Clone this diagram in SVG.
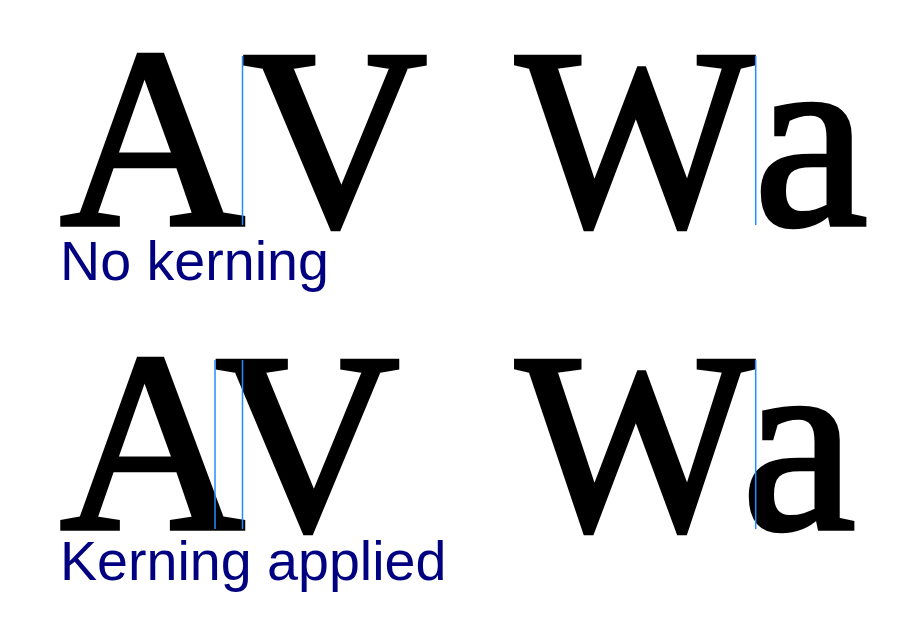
<svg xmlns="http://www.w3.org/2000/svg" width="920" height="640" viewBox="0 0 920 640">
<style>
.g{font-family:"Liberation Serif","Times New Roman",serif;font-weight:normal;font-size:256px;fill:#000;stroke:#000;stroke-width:4.5;stroke-linejoin:miter;stroke-miterlimit:3}
.lbl{font-family:"Liberation Sans",Arial,sans-serif;font-size:55.6px;fill:#000080}
.guide{stroke:#1e90ff;stroke-width:1.5;fill:none}
</style>
<rect width="920" height="640" fill="#fff"/>
<g id="row1-AV">
<text class="g" x="60" y="225">A</text>
<text class="g" x="242.5" y="225">V</text>
</g>
<g id="row1-Wa">
<text class="g" x="516" y="225" textLength="238" lengthAdjust="spacingAndGlyphs">W</text>
<text class="g" x="754" y="225">a</text>
</g>
<g id="row2-AV">
<text class="g" x="60" y="529">A</text>
<text class="g" x="215" y="529">V</text>
</g>
<g id="row2-Wa">
<text class="g" x="516" y="529" textLength="238" lengthAdjust="spacingAndGlyphs">W</text>
<text class="g" x="742" y="529">a</text>
</g>
<g id="guides">
<line class="guide" x1="242.5" y1="56" x2="242.5" y2="225"/>
<line class="guide" x1="755.7" y1="56" x2="755.7" y2="225"/>
<line class="guide" x1="215" y1="360" x2="215" y2="529"/>
<line class="guide" x1="242.5" y1="360" x2="242.5" y2="529"/>
<line class="guide" x1="755.7" y1="360" x2="755.7" y2="529"/>
</g>
<g id="labels">
<text class="lbl" x="60" y="279.5">No kerning</text>
<text class="lbl" x="60" y="579.5">Kerning applied</text>
</g>
</svg>
